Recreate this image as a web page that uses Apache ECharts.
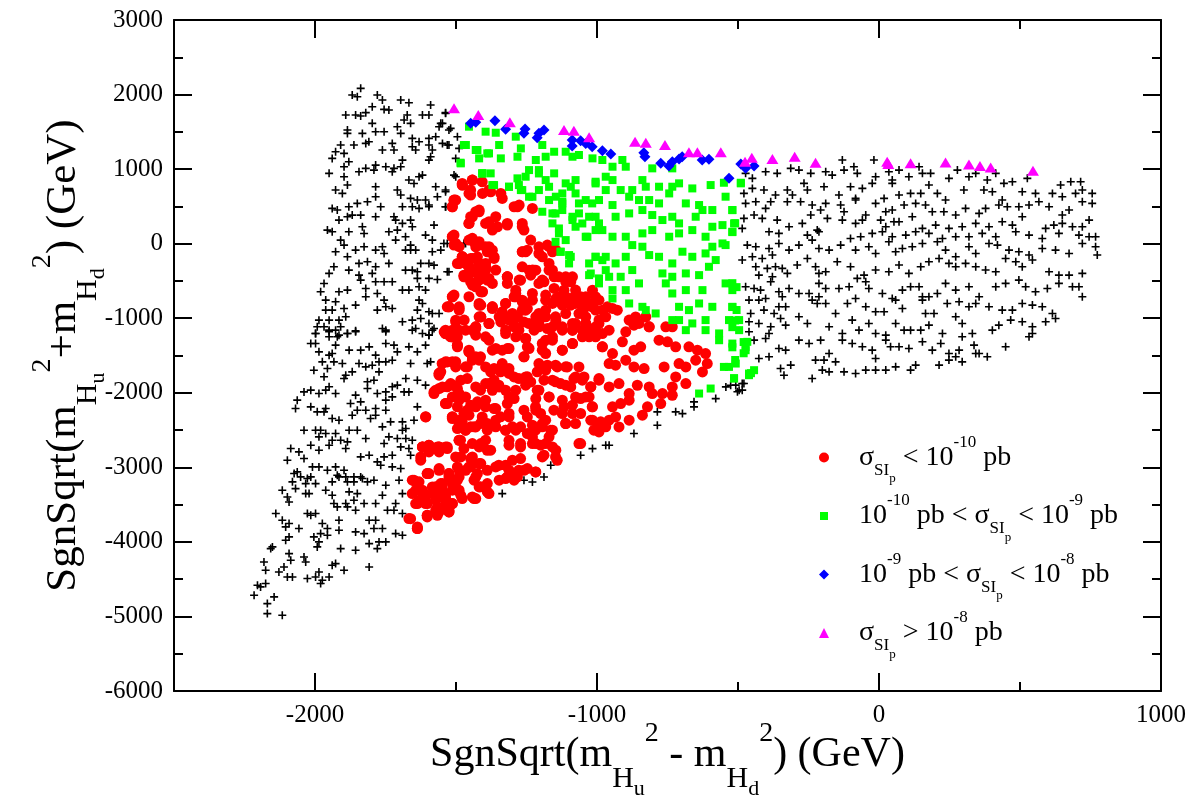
<!DOCTYPE html>
<html>
<head>
<meta charset="utf-8">
<script src="https://cdn.jsdelivr.net/npm/echarts@6/dist/echarts.min.js"></script>
<style>
  html, body { margin: 0; padding: 0; background: #fff; }
  #chart { width: 1190px; height: 801px; }
</style>
</head>
<body>
<div id="chart"></div>
<script>
var myChart = echarts.init(document.getElementById("chart"));

const xMajor = [-2000, -1000, 0, 1000];
const xMinor = [-2500, -1500, -500, 500];

// black crosses
const crossesTop = [
  [-1868,1994],[-1838,2083],[-1850,1971],[-1779,1994],[-1761,1927],[-1696,1927],[-1667,1891],[-1590,1860],
  [-1797,1837],[-1755,1801],[-1738,1792],[-1891,1725],[-1856,1725],[-1820,1757],[-1838,1712],[-1673,1725],
  [-1684,1658],[-1619,1725],[-1596,1725],[-1537,1757],[-1797,1614],[-1885,1524],[-1885,1479],[-1832,1479],
  [-1785,1502],[-1755,1502],[-1708,1569],[-1696,1479],[-1661,1614],[-1655,1412],[-1631,1367],[-1596,1412],
  [-1572,1435],[-1554,1614],[-1525,1524],[-1560,1569],[-1909,1323],[-1862,1323],[-1820,1345],[-1809,1367],
  [-1761,1256],[-1726,1345],[-1720,1256],[-1655,1300],[-1643,1256],[-1596,1323],[-1584,1256],[-1531,1323],
  [-1489,1278],[-1927,1233],[-1897,1211],[-1939,1144],[-1880,1099],[-1897,1032],[-1844,965],[-1820,1010],
  [-1785,1054],[-1749,1032],[-1726,965],[-1696,1032],[-1690,1121],[-1596,1121],[-1590,1166],[-1950,943],
  [-1897,898],[-1791,987],[-1720,1010],[-1619,920],[-1667,853],[-1649,808],[-1631,898],[-1572,764],
  [-1537,697],[-1501,898],[-1927,719],[-1903,674],[-1885,786],[-1785,764],[-1708,719],[-1696,652],
  [-1661,607],[-1637,585],[-1608,585],[-1596,495],[-1566,629],[-1537,495],[-1939,473],[-1921,451],
  [-1880,495],[-1850,540],[-1814,562],[-1785,629],[-1767,495],[-1690,495],[-1655,495],[-1631,473],
  [-1596,518],[-1915,316],[-1885,361],[-1868,383],[-1838,383],[-1785,361],[-1720,361],[-1714,316],
  [-1690,272],[-1661,316],[-1655,227],[-1578,249],[-1956,182],[-1939,160],[-1880,160],[-1832,227],
  [-1826,137],[-1738,160],[-1714,48],[-1708,182],[-1679,93],[-1661,-19],[-1608,115],[-1584,48],
  [-1531,3],[-1472,3],[-1909,48],[-1927,-109],[-1897,-19],[-1885,-176],[-1856,-86],[-1826,-42],
  [-1785,-86],[-1761,-42],[-1755,-131],[-1679,-86],[-1661,-86],[-1643,-86],[-1584,-109],[-1554,-86],
  [-1933,-310],[-1950,-399],[-1880,-355],[-1844,-265],[-1814,-243],[-1785,-310],[-1797,-399],[-1738,-265],
  [-1679,-355],[-1655,-355],[-1625,-265],[-1596,-265],[-1578,-288],[-1637,-377],[-1531,-377],[-1968,-534],
  [-1980,-645],[-1915,-645],[-1885,-623],[-1844,-422],[-1838,-489],[-1820,-601],[-1785,-511],[-1755,-511],
  [-1726,-511],[-1779,-668],[-1690,-623],[-1667,-623],[-1637,-466],[-1631,-578],[-1608,-623],[-1596,-466],
  [-1566,-480],[-1962,-757],[-1927,-780],[-1962,-891],[-1939,-891],[-1897,-869],[-1856,-824],[-1820,-712],
  [-1779,-891],[-1755,-757],[-1749,-847],[-1726,-869],[-1631,-757],[-1619,-802],[-1637,-891],[-1596,-914],
  [-1584,-936],[-1560,-936],[-1986,-1026],[-1950,-1026],[-1915,-1026],[-1891,-981],[-1992,-1115],[-1968,-1115],
  [-1998,-1204],[-1950,-1160],[-1927,-1160],[-1909,-1115],[-1885,-1204],[-1856,-1169],[-1761,-1137],[-1749,-1160],
  [-1690,-1048],[-1655,-1026],[-1625,-1003],[-1643,-1137],[-1596,-1070],[-1578,-1137],[-1619,-1204],[-1596,-1227],
  [-1950,-1249],[-1921,-1249],[-1537,1748],[-1548,1614],[-1519,1547],[-1495,1435],[-1548,1345],[-1525,1323],
  [-1501,1144],[-1507,920],[-1537,719],[-1537,495],[-1543,3],[-1466,3],[-1525,-377]
];

const crossesLeft = [
  [-1998,-1205],[-1950,-1182],[-1915,-1227],[-1885,-1205],[-1856,-1182],[-1749,-1182],[-1655,-1160],[-1596,-1227],
  [-1584,-1160],[-2015,-1339],[-1998,-1339],[-1927,-1361],[-1986,-1451],[-1950,-1495],[-1939,-1473],[-1879,-1428],
  [-1838,-1428],[-1808,-1384],[-1749,-1339],[-1720,-1361],[-1785,-1495],[-1708,-1451],[-1667,-1384],[-1637,-1451],
  [-1608,-1361],[-1974,-1585],[-1933,-1585],[-1903,-1607],[-1868,-1719],[-1844,-1607],[-1820,-1652],[-1797,-1630],
  [-1773,-1585],[-1749,-1585],[-1726,-1563],[-1661,-1607],[-1602,-1607],[-1590,-1585],[-2004,-1697],[-1956,-1674],
  [-1891,-1764],[-1897,-1809],[-1773,-1719],[-1678,-1809],[-1637,-1831],[-1608,-1898],[-1968,-1786],[-1950,-1920],
  [-2015,-1965],[-2039,-1988],[-1986,-2010],[-1962,-1965],[-1927,-2010],[-1856,-2032],[-1814,-1853],[-1791,-1831],
  [-1814,-1943],[-1779,-2010],[-1749,-1988],[-1726,-1920],[-1708,-1898],[-1684,-1988],[-1667,-1988],[-1726,-2055],
  [-1749,-2099],[-2063,-2099],[-2069,-2211],[-2015,-2189],[-1992,-2256],[-1962,-2211],[-1968,-2256],[-1915,-2368],
  [-1939,-2345],[-1874,-2144],[-1838,-2122],[-1868,-2301],[-1850,-2234],[-1820,-2234],[-1803,-2345],[-1785,-2301],
  [-1785,-2211],[-1749,-2234],[-1761,-2457],[-1732,-2390],[-1690,-2390],[-1678,-2480],[-1649,-2368],[-1637,-2189],
  [-2039,-2502],[-1998,-2502],[-1980,-2502],[-1962,-2547],[-1986,-2591],[-1927,-2547],[-1909,-2636],[-1885,-2658],
  [-1879,-2502],[-1850,-2502],[-1820,-2614],[-1755,-2681],[-1738,-2591],[-1708,-2614],[-1696,-2726],[-1678,-2614],
  [-1667,-2748],[-1655,-2636],[-1690,-2502],[-2086,-2748],[-2057,-2793],[-2015,-2703],[-1986,-2770],[-1950,-2703],
  [-1939,-2636],[-1891,-2748],[-1838,-2860],[-1808,-2837],[-1779,-2927],[-1767,-2972],[-1755,-2860],[-1726,-2837],
  [-1726,-2994],[-1696,-3016],[-1661,-2837],[-2098,-2904],[-2039,-2882],[-2009,-2994],[-1986,-2994],[-1956,-3039],
  [-1927,-2994],[-1897,-3039],[-1921,-3106],[-1915,-3128],[-1891,-3128],[-1862,-3128],[-1832,-3150],[-2074,-3083],
  [-2063,-3061],[-2051,-3128],[-2027,-3150],[-2015,-3128],[-1998,-3218],[-2080,-3195],[-2033,-3218],[-1939,-3195],
  [-1862,-3195],[-1885,-3195],[-1838,-3128],[-1814,-3195],[-1791,-3173],[-1749,-3240],[-1702,-3173],[-2116,-3307],
  [-2098,-3397],[-2092,-3464],[-2069,-3285],[-2033,-3352],[-2021,-3352],[-1962,-3307],[-1939,-3374],[-1879,-3329],
  [-1850,-3352],[-1891,-3486],[-1933,-3486],[-1921,-3531],[-1885,-3531],[-1862,-3441],[-1856,-3575],[-1826,-3486],
  [-1785,-3486],[-1761,-3374],[-1714,-3486],[-1690,-3352],[-1720,-3575],[-1690,-3620],[-1743,-3575],[-2139,-3620],
  [-2116,-3710],[-2104,-3799],[-2092,-3754],[-2057,-3821],[-2027,-3620],[-2015,-3643],[-1998,-3620],[-1974,-3754],
  [-1956,-3821],[-1915,-3710],[-1915,-3844],[-1856,-3866],[-1826,-3889],[-1808,-3710],[-1791,-3821],[-1761,-3821],
  [-1785,-3710],[-1714,-3889],[-1690,-3911],[-2104,-3978],[-2092,-3933],[-2157,-4090],[-2151,-4067],[-2092,-4157],
  [-2086,-4246],[-2039,-4202],[-2033,-4269],[-2004,-3933],[-1986,-4000],[-1980,-3889],[-1956,-3911],[-1992,-4067],
  [-1939,-4313],[-1927,-4291],[-1909,-4090],[-1856,-4112],[-1808,-4023],[-1779,-4090],[-1773,-4000],[-1749,-4000],
  [-2181,-4269],[-2175,-4381],[-2128,-4403],[-2110,-4336],[-2098,-4470],[-2080,-4470],[-2027,-4492],[-1998,-4470],
  [-1974,-4515],[-1950,-4470],[-1986,-4403],[-1980,-4559],[-1897,-4381],[-1808,-4336],[-2204,-4582],[-2193,-4604],
  [-2175,-4559],[-2216,-4716],[-2145,-4738],[-2169,-4828],[-2169,-4962],[-2116,-4984]
];

const crossesEdge = [
  [-1336,-3352],[-1259,-3173],[-1229,-3196],[-1188,-3129],[-1164,-2972],[-1058,-2838],[-1016,-2749],[-969,-2704],
  [-957,-2704],[-869,-2547],[-786,-2435],[-786,-2256],[-721,-2256],[-697,-2279],[-656,-2189],[-656,-2122],
  [-579,-2078],[-543,-1921],[-526,-1899],[-496,-1966],[-479,-1876]
];

const crossesRight = [
  [-473,943],[-449,876],[-402,965],[-361,943],[-313,1010],[-284,987],[-242,943],[-189,965],[-166,920],[-130,1122],
  [-124,987],[-89,1032],[-77,943],[-18,1122],[-12,898],[35,965],[47,853],[71,987],[106,898],[142,1032],
  [154,943],[183,943],[248,876],[278,987],[319,898],[343,943],[384,853],[414,943],[443,809],[473,831],[526,876],
  [-479,674],[-449,741],[-408,719],[-367,652],[-325,719],[-307,652],[-266,809],[-254,719],[-195,764],[-142,652],
  [-101,764],[-83,607],[-59,741],[-24,809],[18,607],[47,809],[71,652],[112,674],[148,674],[177,786],
  [207,674],[236,585],[301,719],[372,719],[402,697],[437,585],[508,697],[555,674],[615,674],[644,786],
  [680,831],[715,831],[721,719],[756,674],[650,630],[697,674],
  [-473,540],[-437,563],[-402,473],[-384,563],[-325,563],[-278,563],[-237,518],[-207,451],[-189,540],[-136,518],
  [-124,428],[-83,585],[-47,384],[-12,540],[24,428],[47,451],[89,518],[130,540],[165,518],[189,428],
  [230,428],[272,384],[307,473],[355,406],[378,473],[425,518],[455,495],[496,495],[532,518],[567,563],
  [603,495],[650,384],[674,451],[745,316],[721,563],[756,540],
  [-479,339],[-443,384],[-414,339],[-361,316],[-319,227],[-272,272],[-242,384],[-219,182],[-183,339],[-130,316],
  [-83,272],[-59,316],[6,316],[24,227],[53,294],[71,294],[118,361],[154,205],[201,249],[248,205],
  [295,227],[343,272],[390,227],[437,294],[473,249],[508,361],[591,205],[620,249],[650,272],[686,227],
  [721,227],[-485,205],[-390,160],[-355,138],[-254,115],[-213,160],[-101,70],[-65,93],[-24,138],[12,160],
  [47,93],[95,115],[130,160],[177,138],[225,70],[272,93],[319,93],[366,138],[414,93],[485,160],
  [532,115],[579,70],[638,138],[709,115],[745,93],
  [-467,-19],[-437,-41],[-390,-64],[-355,3],[-319,-86],[-284,-19],[-237,48],[-213,-64],[-177,-86],[-136,-19],
  [-83,-86],[-36,-41],[-12,-131],[35,26],[59,-108],[83,-64],[118,-41],[154,3],[207,26],[236,-86],
  [272,-176],[319,-41],[343,-131],[390,3],[420,-19],[461,-86],[496,-108],[532,-153],[579,-64],[626,-86],
  [674,-131],[721,3],[768,93],[768,-41],[774,-153],[-449,-176],[-414,-198],[-378,-153],
  [-485,-220],[-437,-310],[-396,-332],[-367,-310],[-325,-399],[-290,-287],[-254,-198],[-225,-310],[-189,-377],[-148,-243],
  [-101,-310],[-53,-422],[-12,-354],[35,-377],[71,-287],[106,-399],[148,-310],[177,-243],[213,-198],[248,-265],
  [272,-310],[307,-265],[343,-310],[378,-354],[414,-377],[449,-198],[485,-243],[508,-310],[544,-220],[603,-377],
  [638,-422],[674,-422],[721,-399],[-426,-422],[-378,-444],[-343,-332],[-213,-399],
  [-473,-578],[-443,-601],[-420,-623],[-384,-511],[-355,-645],[-319,-601],[-284,-668],[-248,-668],[-213,-533],[-189,-601],
  [-142,-601],[-106,-578],[-77,-466],[-47,-511],[-36,-601],[12,-668],[47,-735],[83,-623],[112,-578],[142,-578],
  [177,-712],[207,-668],[236,-533],[272,-623],[319,-578],[355,-712],[414,-578],[449,-533],[496,-489],[520,-578],
  [555,-645],[597,-601],[638,-533],[686,-578],[709,-578],[721,-712],[154,-712],[-213,-712],[-343,-712],
  [-461,-757],[-426,-757],[-402,-735],[-355,-847],[-331,-847],[-284,-981],[-237,-757],[-219,-802],[-189,-802],[-154,-936],
  [-112,-802],[-83,-735],[-47,-847],[-12,-914],[18,-914],[59,-757],[83,-869],[154,-757],[165,-936],[195,-936],
  [242,-802],[284,-779],[319,-847],[343,-802],[390,-847],[437,-891],[473,-891],[508,-802],[544,-824],[579,-847],
  [615,-936],[-455,-936],[-408,-891],[-372,-936],
  [-461,-1048],[-426,-1070],[-384,-1115],[-349,-1003],[-331,-1093],[-254,-1070],[-177,-1115],[-130,-1204],[-95,-1025],[-71,-1160],
  [-36,-1070],[-12,-1204],[24,-1227],[59,-1070],[89,-1160],[112,-1160],[148,-1160],[177,-1093],[225,-1204],[272,-981],
  [295,-1070],[331,-1204],[402,-1160],[425,-1093],[467,-1025],[508,-1048],[544,-1115],[591,-1048],[626,-1003],[-461,-1182],
  [-390,-1204],
  [-443,-1294],[-402,-1271],[-355,-1406],[-331,-1428],[-284,-1294],[-248,-1339],[-207,-1294],[-130,-1294],[-95,-1339],[-59,-1383],
  [-24,-1428],[24,-1294],[41,-1383],[71,-1383],[106,-1406],[154,-1316],[189,-1428],[219,-1339],[248,-1473],[284,-1428],
  [295,-1249],[337,-1361],[355,-1473],[384,-1517],[449,-1383],[532,-1249],[544,-1204],
  [-426,-1540],[-390,-1517],[-349,-1674],[-313,-1629],[-337,-1764],[-237,-1808],[-225,-1562],[-195,-1562],[-177,-1473],[-154,-1585],
  [-201,-1696],[-177,-1719],[-124,-1719],[-83,-1741],[-47,-1696],[-12,-1696],[-12,-1540],[24,-1696],[59,-1652],[112,-1696],
  [130,-1629],[213,-1629],[248,-1562],[272,-1517],[295,-1585],[343,-1473],[-508,-1898],[-485,-1875],[-485,-1965],[-502,-1987]
];

// red circles: sigma < 1e-10 pb
const redUpper = [
  [-1477,786],[-1442,853],[-1448,719],[-1406,674],[-1383,719],[-1341,674],[-1507,585],[-1513,495],[-1418,451],[-1448,361],
  [-1383,294],[-1359,361],[-1318,272],[-1282,495],[-1229,473],[-1265,227],[-1513,93],[-1489,-41],[-1442,71],[-1418,26],
  [-1383,-41],[-1424,-176],[-1465,-265],[-1489,-265],[-1442,-377],[-1395,-265],[-1359,-354],[-1418,-489],[-1371,-533],[-1406,-645],
  [-1318,-444],[-1265,-310],[-1229,-354],[-1194,-176],[-1170,-41],[-1146,-86],[-1170,-265],[-1265,-108],[-1206,-533],[-1513,-712],
  [-1454,-712],[-1418,-802],[-1371,-847],[-1324,-802],[-1288,-668],[-1259,-802],[-1229,-668],[-1300,-936],[-1265,-891],[-1206,-936],
  [-1158,-802],[-1111,-712],[-1076,-802],[-1040,-847],[-1005,-891],[-1206,-1070],[-1146,-1070],[-1087,-1070],[-1040,-1070],[-993,-1025],
  [-945,-869],[-886,-1025],[-851,-1070],[-815,-1115],[-733,-1115],[-1489,-1160],[-1442,-1160],[-1395,-1249],[-1324,-1160],[-1277,-1160],
  [-1519,-1249],[-1347,-981],[-1412,-981],[-1471,-1025],
  [-1478,808],[-1442,853],[-1454,674],[-1501,585],[-1513,495],[-1430,428],[-1454,272],[-1513,93],[-1501,3],[-1454,48],
  [-1430,-42],[-1478,-176],[-1489,-265],[-1454,-310],[-1466,-444],[-1430,-578],[-1525,-847],[-1489,-891],[-1501,-1026],[-1537,-1160],
  [-1430,-1115]
];

const redTopFill = [
  [-1478,786],[-1448,652],[-1407,830],[-1377,696],[-1336,607],[-1294,495],[-1276,517],[-1507,584],[-1442,361],[-1418,428],
  [-1454,271],[-1395,271],[-1371,182],[-1353,227],[-1318,249],[-1265,271],[-1259,182],[-1507,115],[-1507,-19],[-1436,25],
  [-1418,-19],[-1395,-42],[-1371,-87],[-1365,-198],[-1235,48],[-1206,-42],[-1176,-19],[-1158,-109],[-1265,-109],[-1247,-87],
  [-1478,-176],[-1466,-265],[-1442,-198],[-1418,-265],[-1395,-355],[-1412,-444],[-1383,-467],[-1472,-444],[-1442,-556],[-1407,-646],
  [-1318,-444],[-1276,-489],[-1241,-355],[-1217,-355],[-1194,-489],[-1170,-355],[-1152,-444],[-1111,-444],[-1093,-512],[-1076,-623],
  [-1507,-690],[-1525,-847],[-1489,-847],[-1412,-825],[-1371,-847],[-1324,-802],[-1288,-713],[-1265,-780],[-1229,-758],[-1182,-690],
  [-1152,-601],[-1135,-713],[-1105,-780],[-1064,-758],[-1040,-713],[-1017,-847],[-981,-892],[-1005,-713],[-1418,-981],[-1383,-1071],
  [-1324,-981],[-1294,-981],[-1253,-892],[-1217,-981],[-1182,-981],[-1147,-981],[-1111,-937],[-1076,-1071],[-1040,-981],[-993,-1071],
  [-969,-981],[-1513,-1160],[-1466,-1160],[-1430,-1115],[-1288,-1115],[-1241,-1071],[-1206,-1115],[-1158,-1115],[-1123,-1160],[-1087,-1160],
  [-1052,-1160],[-1017,-1160],[-981,-1205],[-1537,-1205]
];

const redMiddle = [
  [-1477,-176],[-1448,-199],[-1389,-109],[-1365,-176],[-1495,-266],[-1454,-311],[-1418,-333],[-1395,-311],[-1253,-109],[-1206,-132],
  [-1472,-422],[-1448,-512],[-1418,-445],[-1389,-490],[-1412,-646],[-1318,-445],[-1318,-534],[-1271,-490],[-1235,-422],[-1223,-355],
  [-1188,-512],[-1158,-355],[-1135,-445],[-1111,-512],[-1087,-445],[-1117,-624],[-1081,-713],[-1058,-713],[-1016,-624],[-1288,-624],
  [-1513,-713],[-1531,-847],[-1489,-870],[-1418,-825],[-1371,-870],[-1336,-914],[-1294,-713],[-1265,-758],[-1247,-870],[-1182,-758],
  [-1182,-892],[-1146,-736],[-1123,-825],[-1093,-825],[-1052,-847],[-1016,-803],[-993,-758],[-963,-847],[-928,-892],[-863,-982],
  [-827,-982],[-1064,-937],
  [-1501,-1049],[-1542,-1183],[-1525,-1228],[-1495,-1250],[-1430,-1138],[-1412,-982],[-1383,-1071],[-1341,-1049],[-1312,-1026],[-1294,-1116],
  [-1282,-982],[-1259,-1049],[-1223,-1161],[-1176,-1138],[-1146,-1026],[-1123,-1116],[-1087,-1161],[-1040,-1071],[-1005,-1116],[-957,-1161],
  [-898,-1183],[-869,-1093],[-815,-1116],[-756,-1116],
  [-1495,-1384],[-1454,-1429],[-1430,-1518],[-1383,-1295],[-1371,-1429],[-1336,-1429],[-1318,-1407],[-1288,-1250],[-1253,-1272],[-1247,-1384],
  [-1182,-1295],[-1194,-1429],[-1158,-1295],[-1123,-1429],[-1087,-1340],[-1028,-1250],[-981,-1384],[-945,-1474],[-910,-1317],[-869,-1429],
  [-845,-1384],[-780,-1295],[-750,-1317],[-721,-1384],[-674,-1384],[-644,-1429],[-615,-1474],
  [-1560,-1742],[-1531,-1586],[-1501,-1653],[-1460,-1653],[-1418,-1563],[-1395,-1653],[-1365,-1675],[-1336,-1608],[-1312,-1675],[-1259,-1518],
  [-1206,-1608],[-1182,-1697],[-1141,-1653],[-1105,-1653],[-1064,-1653],[-993,-1809],[-957,-1608],[-934,-1630],[-898,-1563],[-869,-1653],
  [-833,-1675],[-762,-1653],[-709,-1608],[-685,-1653],[-650,-1563],[-609,-1608],[-626,-1720],
  [-1578,-2010],[-1548,-1921],[-1519,-1876],[-1483,-1831],[-1513,-2055],[-1466,-2055],[-1430,-1921],[-1395,-1876],[-1365,-1831],[-1371,-1966],
  [-1347,-1921],[-1324,-1966],[-1294,-1787],[-1253,-1787],[-1235,-1854],[-1206,-1966],[-1158,-1831],[-1129,-1876],[-1093,-1921],[-1076,-1787],
  [-1046,-1787],[-1022,-1921],[-957,-1921],[-922,-1876],[-886,-2010],[-857,-1899],[-815,-1921],[-804,-2010],[-768,-2010],[-733,-1921],
  [-721,-1787],[-685,-1876],[-733,-2033]
];

const redLowFill = [
  [-1513,-1249],[-1495,-1361],[-1430,-1227],[-1454,-1451],[-1413,-1518],[-1359,-1406],[-1312,-1406],[-1324,-1205],[-1253,-1272],[-1241,-1406],
  [-1259,-1518],[-1194,-1339],[-1158,-1249],[-1182,-1473],[-1123,-1428],[-1087,-1339],[-1052,-1249],[-1005,-1249],[-981,-1384],[-1549,-1607],
  [-1501,-1585],[-1466,-1652],[-1442,-1563],[-1377,-1719],[-1342,-1719],[-1312,-1741],[-1277,-1809],[-1247,-1786],[-1212,-1719],[-1176,-1630],
  [-1147,-1630],[-1111,-1652],[-1188,-1831],[-1560,-1741],[-1572,-1965],[-1531,-1920],[-1495,-1943],[-1460,-1809],[-1413,-1965],[-1383,-1876],
  [-1348,-1898],[-1312,-2055],[-1288,-1965],[-1253,-1898],[-1212,-1965],[-1170,-2055],[-1147,-1853],[-1111,-1898],[-1082,-1809],[-1052,-1831],
  [-1022,-1920],[-993,-1831],[-1076,-2055],[-1040,-2055],[-1017,-2189],[-1537,-2144],[-1489,-2099],[-1460,-2234],[-1424,-2122],[-1395,-2099],
  [-1365,-2211],[-1342,-2323],[-1312,-2278],[-1259,-2234],[-1218,-2189],[-1200,-2278],[-1182,-2368],[-1153,-2234],[-1117,-2189],[-1111,-2412],
  [-1087,-2278],[-1058,-2278],[-1022,-2368],[-1011,-2502],[-987,-2390],[-969,-2457],[-1513,-2323],[-1478,-2390],[-1495,-2480],[-1448,-2457],
  [-1413,-2412],[-1389,-2502],[-1359,-2457],[-1324,-2502],[-1300,-2457],[-1271,-2457],[-1247,-2547],[-1218,-2502],[-1194,-2457],[-1158,-2502],
  [-1170,-2591],[-1619,-2726],[-1596,-2703],[-1560,-2726],[-1531,-2726],[-1484,-2636],[-1472,-2748],[-1501,-2860],[-1448,-2882],[-1418,-2726],
  [-1395,-2636],[-1377,-2770],[-1312,-2703],[-1271,-2726],[-1229,-2681],[-1200,-2703],[-1158,-2726],[-1188,-2837],[-1147,-2860],[-1064,-2681],
  [-1596,-3083],[-1560,-3016],[-1525,-3083],[-1489,-3039],[-1448,-2994],[-1418,-2949],[-1389,-3039],[-1348,-2972],[-1312,-3039],[-1277,-3039],
  [-1247,-3016],[-1218,-3061],[-1324,-3150],[-1300,-3128],[-1643,-3195],[-1619,-3307],[-1584,-3352],[-1549,-3262],[-1537,-3352],[-1495,-3173],
  [-1489,-3307],[-1478,-3419],[-1430,-3128],[-1413,-3262],[-1389,-3218],[-1383,-3352],[-1436,-3419],[-1643,-3486],[-1608,-3441],[-1572,-3441],
  [-1537,-3486],[-1513,-3486],[-1560,-3575],[-1525,-3598],[-1602,-3643],[-1637,-3799]
];

const redLower = [
  [-1607,-2324],[-1537,-2145],[-1495,-2189],[-1472,-2279],[-1448,-2167],[-1430,-2189],[-1395,-2189],[-1359,-2212],[-1318,-2145],[-1294,-2078],
  [-1217,-2078],[-1217,-2234],[-1170,-2055],[-1123,-2100],[-1123,-2279],[-1087,-2167],[-1058,-2078],[-1028,-2055],[-1016,-2189],[-945,-2189],
  [-916,-2145],[-886,-2100],[-839,-2301],[-821,-2189],[-774,-2145],
  [-1513,-2324],[-1489,-2413],[-1466,-2502],[-1430,-2458],[-1407,-2324],[-1389,-2413],[-1359,-2368],[-1312,-2324],[-1324,-2502],[-1288,-2502],
  [-1247,-2324],[-1229,-2435],[-1194,-2413],[-1164,-2502],[-1111,-2413],[-1076,-2413],[-1016,-2368],[-993,-2413],[-957,-2368],[-934,-2324],
  [-922,-2458],[-886,-2368],[-993,-2525],
  [-1619,-2726],[-1566,-2726],[-1531,-2748],[-1489,-2637],[-1483,-2860],[-1412,-2681],[-1389,-2771],[-1312,-2637],[-1271,-2681],[-1229,-2592],
  [-1217,-2681],[-1182,-2681],[-1146,-2771],[-1194,-2860],[-1058,-2681],[-1625,-2860],[-1596,-2793],
  [-1602,-3084],[-1560,-3039],[-1525,-3084],[-1495,-2994],[-1454,-2994],[-1412,-2950],[-1359,-2994],[-1324,-2972],[-1300,-2905],[-1271,-2883],
  [-1259,-3039],[-1217,-3062],[-1141,-2905],[-1649,-3173],[-1424,-3084],
  [-1643,-3308],[-1613,-3352],[-1584,-3263],[-1554,-3218],[-1513,-3218],[-1495,-3308],[-1436,-3173],[-1418,-3263],[-1389,-3330],[-1347,-3173],
  [-1318,-3129],[-1282,-3129],[-1294,-3173],[-1548,-3397],[-1483,-3375],
  [-1637,-3486],[-1602,-3486],[-1566,-3531],[-1519,-3486],[-1430,-3419],[-1566,-3643],[-1602,-3665],[-1661,-3688],[-1637,-3822],[-1525,-3598]
];

const redLeft = [
  [-1537,-1205],[-1513,-1250],[-1495,-1361],[-1454,-1451],[-1442,-1518],[-1537,-1585],[-1513,-1585],[-1554,-1719],[-1560,-1764],[-1578,-1988],
  [-1560,-1943],[-1513,-1898],[-1489,-2010],[-1531,-2144],[-1608,-2323],[-1513,-2345],[-1489,-2368],[-1454,-2301],[-1436,-2457],[-1466,-2502],
  [-1489,-2636],[-1442,-2681],[-1619,-2726],[-1596,-2703],[-1560,-2726],[-1537,-2726],[-1625,-2904],[-1560,-2793],[-1442,-2860],[-1466,-3039],
  [-1489,-3128],[-1602,-3083],[-1525,-3128],[-1655,-3173],[-1631,-3195],[-1548,-3218],[-1572,-3262],[-1501,-3262],[-1513,-3307],[-1655,-3352],
  [-1560,-3352],[-1537,-3397],[-1631,-3441],[-1608,-3486],[-1513,-3486],[-1442,-3397],[-1572,-3575],[-1525,-3575],[-1560,-3598],[-1667,-3687],
  [-1602,-3643],[-1637,-3822]
];

// green squares: 1e-10 < sigma < 1e-9 pb
const greenSquares = [
  [-1454,1569],[-1395,1502],[-1359,1488],[-1465,1323],[-1424,1256],[-1383,1211],[-1347,1323],[-1341,1144],[-1483,1077],[-1288,1435],
  [-1270,1278],[-1282,1166],[-1194,1323],[-1217,1122],[-1182,1166],[-1152,1233],[-1111,1233],[-1087,1166],[-1064,1189],[-1016,1144],
  [-981,1122],[-910,1122],[-898,1032],[-945,1032],[-804,1010],[-733,1010],[-1406,943],[-1377,943],[-1371,786],[-1312,764],
  [-1282,876],[-1241,987],[-1206,987],[-1182,853],[-1152,943],[-1111,809],[-1076,853],[-1005,831],[-945,853],[-969,719],
  [-916,719],[-875,719],[-839,853],[-827,764],[-780,764],[-733,764],[-709,809],[-662,741],[-597,786],[-550,817],
  [-490,817],[-1270,719],[-1241,630],[-1206,719],[-1170,585],[-1146,630],[-1123,540],[-1076,674],[-1040,585],[-993,585],
  [-945,518],[-886,630],[-851,585],[-815,585],[-780,540],[-744,674],[-685,540],[-638,518],[-591,451],[-544,630],
  [-520,451],[-1158,406],[-1123,451],[-1087,317],[-1064,406],[-1028,361],[-993,272],[-934,361],[-886,406],
  [-839,451],[-804,384],[-768,317],[-733,361],[-709,272],[-650,361],[-626,451],[-591,227],[-555,249],[-514,272],
  [-1158,272],[-1135,138],[-1076,227],[-1040,93],[-1005,182],[-945,93],[-898,93],[-839,138],[-804,182],[-744,93],
  [-709,138],[-662,182],[-615,93],[-555,3],[-520,160],[-1129,-108],[-1099,-153],[-1099,-265],[-1028,-265],[-1005,-176],
  [-969,-176],[-934,-265],[-898,-176],[-875,-19],[-839,-41],[-815,-153],[-780,-176],[-733,-265],[-697,-108],[-662,-176],
  [-615,-131],[-591,-41],[-544,-19],[-1028,-422],[-993,-466],[-957,-444],[-916,-444],[-875,-354],[-851,-533],[-945,-623],
  [-898,-623],[-768,-399],[-733,-444],[-685,-399],[-638,-422],[-603,-310],[-579,-220],[-993,-533],[-945,-735],[-886,-802],
  [-839,-847],[-792,-936],[-756,-533],[-733,-668],[-685,-623],[-626,-623],[-544,-533],[-520,-623],[-520,-847],[-496,-1025],
  [-591,-847],[-638,-802],[-674,-891],[-709,-847],[-709,-1025],[-662,-1070],[-615,-1025],[-532,-1025],[-496,-1160],[-567,-1204],
  [-615,-1160],[-685,-1160],[-733,-1025],[-827,-891],
  [-532,-1653],[-508,-1608],[-461,-1764],[-514,-1809],[-597,-1943],[-638,-2010],[-473,-1384],[-520,-1340],[-567,-1295],[-467,-1317],
  [-473,-1429],[-550,-1653],[-461,-1742],[-490,809],[-520,450],[-510,275],[-520,155],[-520,-530],[-505,-583],[-520,-850],
  [-505,-890],[-510,-1030],[-520,-1120],[-480,-1320],[-520,-1390],[-480,-1470],[-510,-1560],[-454,-1737],[-443,-1697],[-514,-1804],
  [-1472,1323],[-1430,1256],[-1418,1144],[-1484,1086],[-1407,943],[-1389,1211],
  [-1407,942],[-1365,786],[-1312,763],[-1265,719],[-1206,942],[-1170,763],[-1123,674],[-1093,763],[-1194,428],[-1147,405],
  [-1135,204],[-1087,361],[-1052,271],[-1005,361],[-981,182],[-1034,92],[-1111,48],[-1147,25],[-1129,-109],[-1093,-176],
  [-1005,-176],[-981,-221],[-1022,-400],[-993,-512],[-969,-355],[-969,898],[-1005,808],[-1064,540],[-1017,540],[-1123,562],
  [-1277,786],[-1229,629],[-1253,898]
];

// blue diamonds: 1e-9 < sigma < 1e-8 pb
const blueDiamonds = [
  [-1448,1614],[-1430,1627],[-1362,1649],[-1324,1533],[-1255,1537],[-1259,1480],[-1206,1480],[-1188,1524],[-1212,1420],[-1088,1390],
  [-1088,1309],[-1058,1380],[-1040,1345],[-1017,1300],[-981,1246],[-951,1202],[-834,1219],[-830,1165],[-774,1077],[-745,1041],
  [-733,1098],[-709,1135],[-698,1166],[-627,1121],[-603,1131],[-532,876],[-490,1068],[-443,1041],[-473,1010]
];

// magenta triangles: sigma > 1e-8 pb
const magentaTriangles = [
  [-1507,1815],[-1421,1725],[-1309,1627],[-1117,1524],[-1082,1514],[-1028,1426],[-865,1367],[-827,1353],[-759,1323],[-674,1225],
  [-644,1225],[-561,1225],[-475,1098],[-451,1152],[-378,1135],[-299,1165],[-225,1085],[29,1098],[33,1068],[112,1077],
  [236,1090],[319,1063],[358,1041],[396,1023],[546,978]
];

const crosses = crossesTop.concat(crossesLeft, crossesEdge, crossesRight);
const reds = redUpper.concat(redTopFill, redMiddle, redLowFill, redLower, redLeft);

const legendText = {
  r: "{m0|σ}{s|SI}{ss|p}{m| < 10}{p|-10}{m| pb}",
  g: "{m0|10}{p|-10}{m| pb < σ}{s|SI}{ss|p}{m| < 10}{p|-9}{m| pb}",
  b: "{m0|10}{p|-9}{m| pb < σ}{s|SI}{ss|p}{m| < 10}{p|-8}{m| pb}",
  m: "{m0|σ}{s|SI}{ss|p}{m| > 10}{p|-8}{m| pb}",
};

const serif = "Liberation Serif";
const plusPath =
  "path://M-1,-0.2H-0.2V-1H0.2V-0.2H1V0.2H0.2V1H-0.2V0.2H-1Z";

function titleRich(size) {
  return {
    m: { fontSize: size, fontFamily: serif, color: "#000", verticalAlign: "middle" },
    s: { fontSize: 30, fontFamily: serif, color: "#000", verticalAlign: "middle", padding: [48, 0, 0, 0] },
    ss: { fontSize: 22, fontFamily: serif, color: "#000", verticalAlign: "middle", padding: [68, 0, 0, 0] },
    p: { fontSize: 28, fontFamily: serif, color: "#000", verticalAlign: "middle", padding: [0, 0, 42, 0] },
  };
}

function plain(v) {
  return String(v);
}

function xAxisDef(position, ticks, len, showLine, label) {
  return {
    type: "value",
    position: position,
    min: -2500,
    max: 1000,
    axisLine: { show: showLine, onZero: false, lineStyle: { color: "#000", width: 2 } },
    axisTick: { inside: true, length: len, customValues: ticks, lineStyle: { color: "#000", width: 2 } },
    axisLabel: label
      ? { customValues: xMajor, formatter: plain, fontFamily: serif, fontSize: 25, color: "#000", margin: 12 }
      : { show: false },
    splitLine: { show: false },
  };
}

function yAxisDef(position, label) {
  return {
    type: "value",
    position: position,
    min: -6000,
    max: 3000,
    interval: 1000,
    axisLine: { show: true, onZero: false, lineStyle: { color: "#000", width: 2 } },
    axisTick: { inside: true, length: 18, lineStyle: { color: "#000", width: 2 } },
    minorTick: { show: true, splitNumber: 2, length: 9, lineStyle: { color: "#000", width: 2 } },
    axisLabel: label
      ? { formatter: plain, fontFamily: serif, fontSize: 25, color: "#000", margin: 11 }
      : { show: false },
    splitLine: { show: false },
    minorSplitLine: { show: false },
  };
}

const xMain = xAxisDef("bottom", xMajor, 18, true, true);
xMain.name = "{m|SgnSqrt(m}{s|H}{ss|u}{p|2}{m| - m}{s|H}{ss|d}{p|2}{m|) (GeV)}";
xMain.nameLocation = "middle";
xMain.nameGap = 19;
xMain.nameMoveOverlap = false;
xMain.nameTextStyle = { rich: titleRich(42) };

const yMain = yAxisDef("left", true);
yMain.name = "{m|SgnSqrt(m}{s|H}{ss|u}{p|2}{m|+m}{s|H}{ss|d}{p|2}{m|) (GeV)}";
yMain.nameLocation = "middle";
yMain.nameRotate = 90;
yMain.nameGap = 65;
yMain.nameMoveOverlap = false;
yMain.nameTextStyle = { rich: titleRich(43) };

const legendBase = { fontSize: 28, fontFamily: serif, color: "#000", verticalAlign: "middle" };

const option = {
  animation: false,
  backgroundColor: "#fff",
  grid: { left: 174, right: 29, top: 20, bottom: 110, containLabel: false, outerBoundsMode: "none" },
  xAxis: [
    xMain,
    xAxisDef("bottom", xMinor, 9, false, false),
    xAxisDef("top", xMajor, 18, true, false),
    xAxisDef("top", xMinor, 9, false, false),
  ],
  yAxis: [yMain, yAxisDef("right", false)],
  legend: {
    orient: "vertical",
    left: 818,
    top: 434,
    padding: 0,
    itemWidth: 10,
    itemHeight: 10,
    itemGap: 7,
    data: [
      { name: "r" },
      { name: "g", itemStyle: { borderColor: "#fff", borderWidth: 2 } },
      { name: "b" },
      { name: "m" },
    ],
    formatter: function (name) {
      return legendText[name];
    },
    textStyle: {
      rich: {
        m0: Object.assign({}, legendBase, { padding: [0, 0, 0, 25] }),
        m: legendBase,
        s: { fontSize: 17, fontFamily: serif, color: "#000", verticalAlign: "middle", padding: [26, 0, 0, 0] },
        ss: { fontSize: 13, fontFamily: serif, color: "#000", verticalAlign: "middle", padding: [43, 0, 0, 0] },
        p: { fontSize: 17, fontFamily: serif, color: "#000", verticalAlign: "middle", padding: [0, 0, 30, 0] },
      },
    },
  },
  series: [
    {
      name: "other",
      type: "scatter",
      data: crosses,
      symbol: plusPath,
      symbolSize: 8,
      itemStyle: { color: "#000", opacity: 1 },
      silent: true,
    },
    {
      name: "r",
      type: "scatter",
      data: reds,
      symbol: "circle",
      symbolSize: 11,
      itemStyle: { color: "#ff0000", opacity: 1 },
    },
    {
      name: "g",
      type: "scatter",
      data: greenSquares,
      symbol: "rect",
      symbolSize: 8,
      itemStyle: { color: "#00ff00", opacity: 1 },
    },
    {
      name: "b",
      type: "scatter",
      data: blueDiamonds,
      symbol: "diamond",
      symbolSize: 11,
      itemStyle: { color: "#0000ff", opacity: 1 },
    },
    {
      name: "m",
      type: "scatter",
      data: magentaTriangles,
      symbol: "triangle",
      symbolSize: [12, 10],
      itemStyle: { color: "#ff00ff", opacity: 1 },
    },
  ],
};

myChart.setOption(option);
</script>
</body>
</html>
